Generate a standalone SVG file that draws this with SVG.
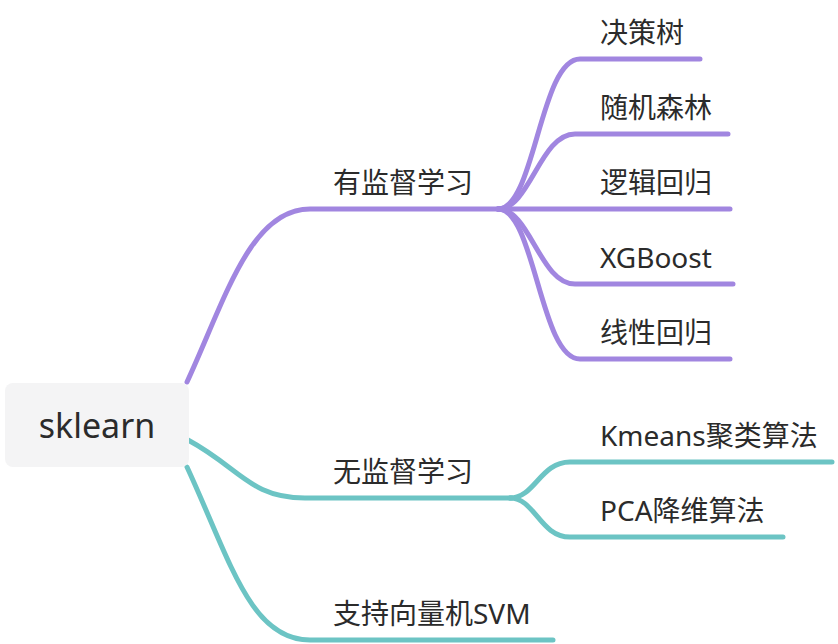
<svg xmlns="http://www.w3.org/2000/svg" width="838" height="644" viewBox="0 0 838 644">
  <style>
    .lbl { font-family: "Noto Sans", "Noto Sans CJK SC", sans-serif; font-size: 28px; fill: #2b2b2b; }
    .root { font-family: "Noto Sans", "Noto Sans CJK SC", sans-serif; font-size: 34px; fill: #2b2b2b; }
    .c { fill: none; stroke-width: 5; stroke-linecap: round; stroke-linejoin: round; }
    .p { stroke: #a186e0; }
    .t { stroke: #6cc4c4; }
  </style>
  <rect width="838" height="644" fill="#ffffff"/>
  <g id="connectors">
    <path class="c p" d="M187,382 C 225,300 250,209 310,209 L 500,209"/>
    <path class="c p" d="M498,209 C 535,209 540,59 580,59 L 700,59"/>
    <path class="c p" d="M498,209 C 530,209 540,134 575,134 L 728,134"/>
    <path class="c p" d="M498,209 L 730,209"/>
    <path class="c p" d="M498,209 C 530,209 540,284 575,284 L 733,284"/>
    <path class="c p" d="M498,209 C 535,209 540,359 580,359 L 730,359"/>
    <path class="c t" d="M188,440 C 240,468 250,498 305,498 L 512,498"/>
    <path class="c t" d="M510,498 C 535,498 540,462 570,462 L 832,462"/>
    <path class="c t" d="M510,498 C 535,498 540,537 570,537 L 783,537"/>
    <path class="c t" d="M187,467 C 230,560 250,640 310,640 L 553,640"/>
  </g>
  <g id="root">
    <rect x="5" y="383" width="184" height="84" rx="8" fill="#f4f4f5"/>
    <text class="root" x="97" y="438" text-anchor="middle">sklearn</text>
  </g>
  <g id="supervised"><text class="lbl" x="333" y="193">有监督学习</text></g>
  <g id="decision-tree"><text class="lbl" x="600" y="43">决策树</text></g>
  <g id="random-forest"><text class="lbl" x="600" y="118">随机森林</text></g>
  <g id="logistic"><text class="lbl" x="600" y="193">逻辑回归</text></g>
  <g id="xgboost"><text class="lbl" x="600" y="268">XGBoost</text></g>
  <g id="linear"><text class="lbl" x="600" y="343">线性回归</text></g>
  <g id="unsupervised"><text class="lbl" x="333" y="482">无监督学习</text></g>
  <g id="kmeans"><text class="lbl" x="600" y="446">Kmeans聚类算法</text></g>
  <g id="pca"><text class="lbl" x="600" y="521">PCA降维算法</text></g>
  <g id="svm"><text class="lbl" x="333" y="624">支持向量机SVM</text></g>
</svg>
